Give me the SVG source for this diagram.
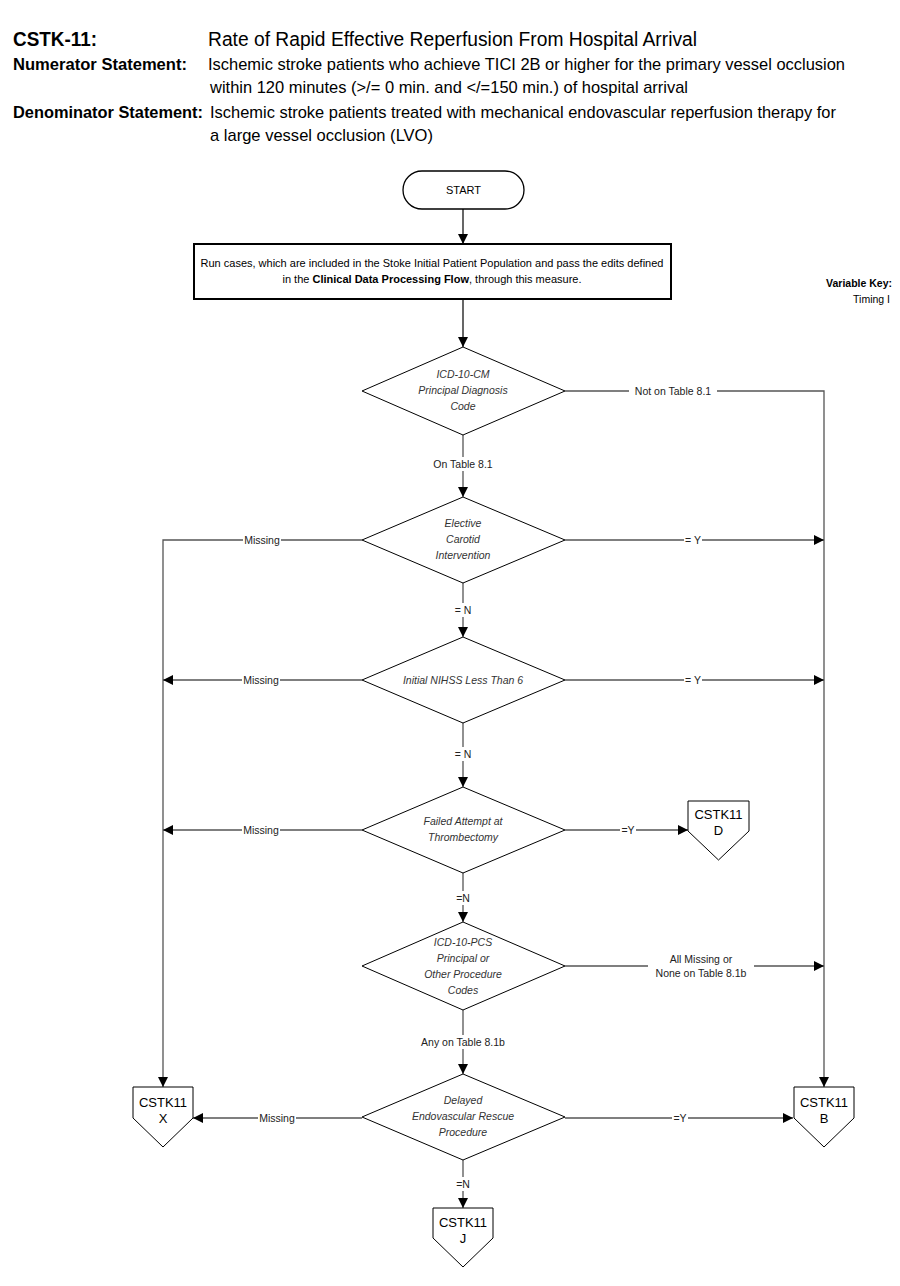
<svg xmlns="http://www.w3.org/2000/svg" width="900" height="1286" viewBox="0 0 900 1286">
<style>
text{font-family:"Liberation Sans",Arial,sans-serif;fill:#000}
.h{font-size:20px}
.hb{font-size:20px;font-weight:bold}
.s{font-size:17px}
.sb{font-size:17px;font-weight:bold}
.p{font-size:11px;text-anchor:middle}
.d{font-size:10.5px;font-style:italic;text-anchor:middle;fill:#333}
.l{font-size:10.5px;text-anchor:middle;fill:#222}
.k{font-size:13px;text-anchor:middle}
.shape{fill:#fff;stroke:#000;stroke-width:1}
.c{fill:none;stroke:#555;stroke-width:1.3}
.cb{fill:none;stroke:#000;stroke-width:1.2}
.bg{fill:#fff}
</style>
<defs>
<marker id="a" viewBox="0 0 10 10" refX="10" refY="5" markerWidth="10" markerHeight="10" markerUnits="userSpaceOnUse" orient="auto">
<path d="M0,0 L10,5 L0,10 z" fill="#000"/>
</marker>
</defs>
<rect width="900" height="1286" fill="#fff"/>
<g id="header">
<text class="hb" x="13" y="46" textLength="84" lengthAdjust="spacingAndGlyphs">CSTK-11:</text>
<text class="h" x="208" y="46" textLength="489" lengthAdjust="spacingAndGlyphs">Rate of Rapid Effective Reperfusion From Hospital Arrival</text>
<text class="sb" x="13" y="70" textLength="174" lengthAdjust="spacingAndGlyphs">Numerator Statement:</text>
<text class="s" x="208" y="70" textLength="637" lengthAdjust="spacingAndGlyphs">Ischemic stroke patients who achieve TICI 2B or higher for the primary vessel occlusion</text>
<text class="s" x="210" y="93" textLength="478" lengthAdjust="spacingAndGlyphs">within 120 minutes (&gt;/= 0 min. and &lt;/=150 min.) of hospital arrival</text>
<text class="sb" x="13" y="118" textLength="190" lengthAdjust="spacingAndGlyphs">Denominator Statement:</text>
<text class="s" x="210" y="118" textLength="626" lengthAdjust="spacingAndGlyphs">Ischemic stroke patients treated with mechanical endovascular reperfusion therapy for</text>
<text class="s" x="210" y="141" textLength="223" lengthAdjust="spacingAndGlyphs">a large vessel occlusion (LVO)</text>
</g>
<g id="varkey">
<text x="892" y="287" style="font-size:10.5px;font-weight:bold;text-anchor:end">Variable Key:</text>
<text x="890" y="303" style="font-size:10.5px;text-anchor:end">Timing I</text>
</g>
<g id="connectors">
<line class="cb" x1="463" y1="209" x2="463" y2="244" marker-end="url(#a)"/>
<line class="cb" x1="463" y1="299" x2="463" y2="347" marker-end="url(#a)"/>
<line class="c" x1="463" y1="435" x2="463" y2="497" marker-end="url(#a)"/>
<line class="c" x1="463" y1="583" x2="463" y2="637" marker-end="url(#a)"/>
<line class="c" x1="463" y1="723" x2="463" y2="787" marker-end="url(#a)"/>
<line class="c" x1="463" y1="873" x2="463" y2="922" marker-end="url(#a)"/>
<line class="c" x1="463" y1="1010" x2="463" y2="1074" marker-end="url(#a)"/>
<line class="c" x1="463" y1="1160" x2="463" y2="1208" marker-end="url(#a)"/>
<polyline class="c" points="565,391 824,391 824,1087" marker-end="url(#a)"/>
<polyline class="c" points="362,540 163,540 163,1087" marker-end="url(#a)"/>
<line class="c" x1="565" y1="540" x2="824" y2="540" marker-end="url(#a)"/>
<line class="c" x1="362" y1="680" x2="163" y2="680" marker-end="url(#a)"/>
<line class="c" x1="565" y1="680" x2="824" y2="680" marker-end="url(#a)"/>
<line class="c" x1="362" y1="830" x2="163" y2="830" marker-end="url(#a)"/>
<line class="c" x1="565" y1="830" x2="688" y2="830" marker-end="url(#a)"/>
<line class="c" x1="565" y1="966" x2="824" y2="966" marker-end="url(#a)"/>
<line class="c" x1="362" y1="1118" x2="193" y2="1118" marker-end="url(#a)"/>
<line class="c" x1="565" y1="1118" x2="793" y2="1118" marker-end="url(#a)"/>
<g id="labels">
<rect class="bg" x="629" y="384" width="88" height="14"/>
<text class="l" x="673" y="395">Not on Table 8.1</text>
<rect class="bg" x="430" y="457" width="66" height="14"/>
<text class="l" x="463" y="468">On Table 8.1</text>
<rect class="bg" x="243" y="533" width="38" height="14"/>
<text class="l" x="262" y="544">Missing</text>
<rect class="bg" x="684" y="533" width="18" height="14"/>
<text class="l" x="693" y="544">= Y</text>
<rect class="bg" x="453" y="603" width="20" height="14"/>
<text class="l" x="463" y="614">= N</text>
<rect class="bg" x="242" y="673" width="38" height="14"/>
<text class="l" x="261" y="684">Missing</text>
<rect class="bg" x="684" y="673" width="18" height="14"/>
<text class="l" x="693" y="684">= Y</text>
<rect class="bg" x="453" y="747" width="20" height="14"/>
<text class="l" x="463" y="758">= N</text>
<rect class="bg" x="242" y="823" width="38" height="14"/>
<text class="l" x="261" y="834">Missing</text>
<rect class="bg" x="620" y="823" width="16" height="14"/>
<text class="l" x="628" y="834">=Y</text>
<rect class="bg" x="454" y="891" width="18" height="14"/>
<text class="l" x="463" y="902">=N</text>
<rect class="bg" x="648" y="951" width="106" height="28"/>
<text class="l" x="701" y="963">All Missing or</text>
<text class="l" x="701" y="977">None on Table 8.1b</text>
<rect class="bg" x="416" y="1035" width="94" height="14"/>
<text class="l" x="463" y="1046">Any on Table 8.1b</text>
<rect class="bg" x="258" y="1111" width="38" height="14"/>
<text class="l" x="277" y="1122">Missing</text>
<rect class="bg" x="672" y="1111" width="16" height="14"/>
<text class="l" x="680" y="1122">=Y</text>
<rect class="bg" x="454" y="1177" width="18" height="14"/>
<text class="l" x="463" y="1188">=N</text>
</g>
</g>
<g id="start">
<rect class="shape" x="403" y="171" width="121" height="38" rx="19" ry="19" style="stroke-width:1.3"/>
<text x="463.5" y="194" style="font-size:11px;text-anchor:middle">START</text>
</g>
<g id="process">
<rect x="194" y="244" width="477" height="55" fill="#fff" stroke="#000" stroke-width="2"/>
<text class="p" x="432" y="267">Run cases, which are included in the Stoke Initial Patient Population and pass the edits defined</text>
<text class="p" x="432" y="283">in the <tspan font-weight="bold">Clinical Data Processing Flow</tspan>, through this measure.</text>
</g>
<g id="d1">
<polygon class="shape" points="463,347 565,391 463,435 362,391"/>
<text class="d" x="463" y="378">ICD-10-CM</text>
<text class="d" x="463" y="394">Principal Diagnosis</text>
<text class="d" x="463" y="410">Code</text>
</g>
<g id="d2">
<polygon class="shape" points="463,497 565,540 463,583 362,540"/>
<text class="d" x="463" y="527">Elective</text>
<text class="d" x="463" y="543">Carotid</text>
<text class="d" x="463" y="559">Intervention</text>
</g>
<g id="d3">
<polygon class="shape" points="463,637 565,680 463,723 362,680"/>
<text class="d" x="463" y="684">Initial NIHSS Less Than 6</text>
</g>
<g id="d4">
<polygon class="shape" points="463,787 565,830 463,873 362,830"/>
<text class="d" x="463" y="825">Failed Attempt at</text>
<text class="d" x="463" y="841">Thrombectomy</text>
</g>
<g id="d5">
<polygon class="shape" points="463,922 565,966 463,1010 362,966"/>
<text class="d" x="463" y="946">ICD-10-PCS</text>
<text class="d" x="463" y="962">Principal or</text>
<text class="d" x="463" y="978">Other Procedure</text>
<text class="d" x="463" y="994">Codes</text>
</g>
<g id="d6">
<polygon class="shape" points="463,1074 565,1117 463,1160 362,1117"/>
<text class="d" x="463" y="1104">Delayed</text>
<text class="d" x="463" y="1120">Endovascular Rescue</text>
<text class="d" x="463" y="1136">Procedure</text>
</g>
<g id="offD">
<polygon class="shape" points="688,801 749,801 749,831 718.5,860 688,831"/>
<text class="k" x="718.5" y="819">CSTK11</text>
<text class="k" x="718.5" y="835">D</text>
</g>
<g id="offX">
<polygon class="shape" points="133,1087 193,1087 193,1118 163,1147 133,1118"/>
<text class="k" x="163" y="1107">CSTK11</text>
<text class="k" x="163" y="1123">X</text>
</g>
<g id="offB">
<polygon class="shape" points="794,1087 854,1087 854,1118 824,1147 794,1118"/>
<text class="k" x="824" y="1107">CSTK11</text>
<text class="k" x="824" y="1123">B</text>
</g>
<g id="offJ">
<polygon class="shape" points="433,1208 493,1208 493,1238 463,1267 433,1238"/>
<text class="k" x="463" y="1227">CSTK11</text>
<text class="k" x="463" y="1243">J</text>
</g>
</svg>
